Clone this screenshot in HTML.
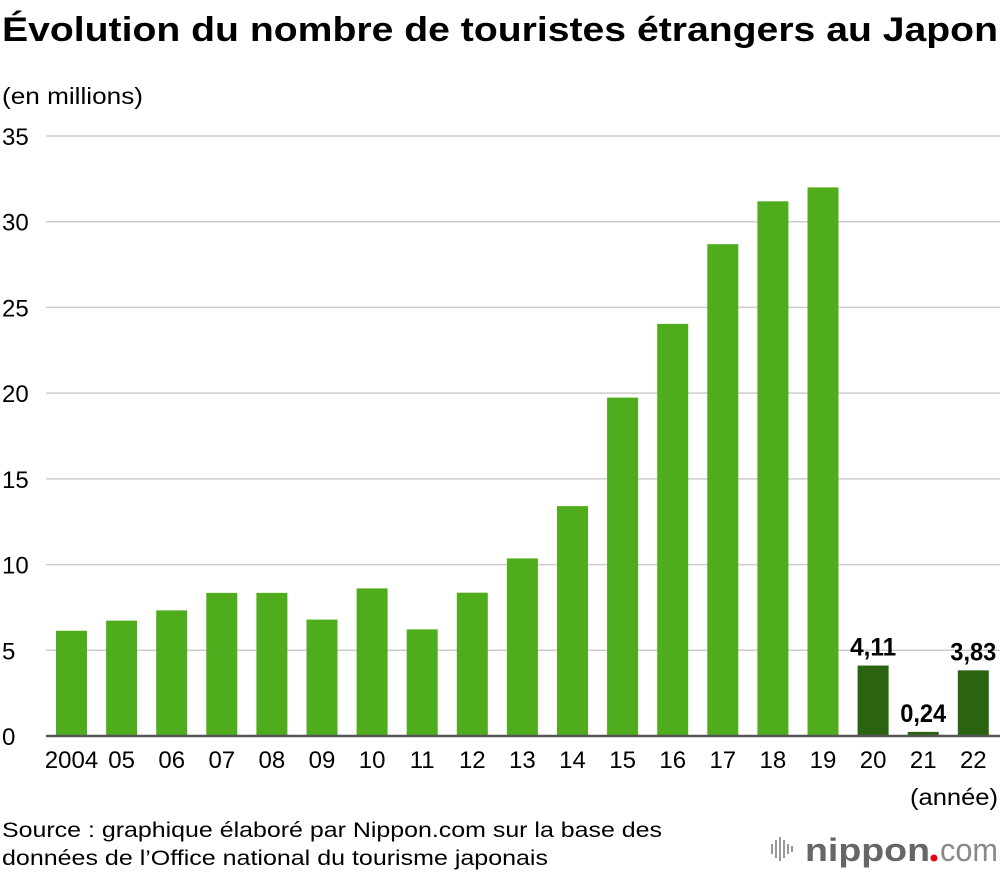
<!DOCTYPE html>
<html><head><meta charset="utf-8">
<style>
body{margin:0;background:#fff;font-family:"Liberation Sans",Arial,sans-serif;}
svg text{font-family:"Liberation Sans",Arial,sans-serif;}
</style></head>
<body>
<svg width="1000" height="872" viewBox="0 0 1000 872">
<text x="2" y="41" font-size="34" font-weight="bold" fill="#000" textLength="996" lengthAdjust="spacingAndGlyphs">Évolution du nombre de touristes étrangers au Japon</text>
<text x="2" y="104" font-size="23" fill="#000" textLength="141" lengthAdjust="spacingAndGlyphs">(en millions)</text>
<g id="grid"></g>
<g id="bars"></g>
<g id="xl"></g>
<text x="998" y="805" font-size="23" text-anchor="end" fill="#000" textLength="88" lengthAdjust="spacingAndGlyphs">(année)</text>
<text x="2" y="837" font-size="21" fill="#000" textLength="660" lengthAdjust="spacingAndGlyphs">Source : graphique élaboré par Nippon.com sur la base des</text>
<text x="2" y="865" font-size="21" fill="#000" textLength="546" lengthAdjust="spacingAndGlyphs">données de l’Office national du tourisme japonais</text>
<g>
<g fill="#999">
<rect x="771" y="844" width="2" height="10"/><rect x="775" y="840" width="2" height="18"/><rect x="779" y="837" width="2" height="24"/><rect x="783" y="840" width="2" height="18"/><rect x="787" y="844" width="2" height="10"/><rect x="791" y="846" width="2" height="6"/>
</g>
<text x="805" y="861" font-size="32" font-weight="bold" fill="#666" textLength="125" lengthAdjust="spacingAndGlyphs">nippon</text>
<circle cx="934" cy="858" r="3.5" fill="#e60012"/>
<text x="940" y="861" font-size="32" fill="#888" textLength="58" lengthAdjust="spacingAndGlyphs">com</text>
</g>
<line x1="46" y1="736" x2="1000" y2="736" stroke="#555" stroke-width="2.5"/>
</svg>
<script>
const years=["2004","05","06","07","08","09","10","11","12","13","14","15","16","17","18","19","20","21","22"];
const values=[6.14,6.73,7.33,8.35,8.35,6.79,8.61,6.22,8.36,10.36,13.41,19.74,24.04,28.69,31.19,32.0,4.11,0.24,3.83];
const yTicks=[0,5,10,15,20,25,30,35];
const highlight=["4,11","0,24","3,83"];
const NS="http://www.w3.org/2000/svg";
const y=v=>736-v*600/35;
const x=i=>56+i*50.1;
const bw=31;
function mk(t,a,p){const e=document.createElementNS(NS,t);for(const k in a)e.setAttribute(k,a[k]);p.appendChild(e);return e;}
const grid=document.getElementById('grid');
yTicks.forEach(t=>{
 if(t>0){const l=mk('line',{x1:46,x2:1000,y1:y(t),y2:y(t),stroke:'#ccc','stroke-width':1.5},grid);
 
 }
 const tx=mk('text',{x:2,y:y(t)+9,'font-size':24,fill:'#000'},grid);tx.textContent=t;
 
 
});
const bars=document.getElementById('bars'),xl=document.getElementById('xl');
values.forEach((v,i)=>{
 const late=i>=16;
 const r=mk('rect',{x:x(i),y:y(v),width:bw,height:736-y(v),fill:late?'#2a6410':'#4fad1d'},bars);
 
 
 const t=mk('text',{x:x(i)+bw/2,y:768,'font-size':24,'text-anchor':'middle',fill:'#000'},xl);t.textContent=years[i];
 
 
 if(late){const lb=mk('text',{x:x(i)+bw/2,y:y(v)-10,'font-size':25,'font-weight':'bold','text-anchor':'middle',fill:'#000',textLength:46,lengthAdjust:'spacingAndGlyphs'},bars);
 lb.textContent=highlight[i-16];
 
 }
});
</script>
</body></html>
